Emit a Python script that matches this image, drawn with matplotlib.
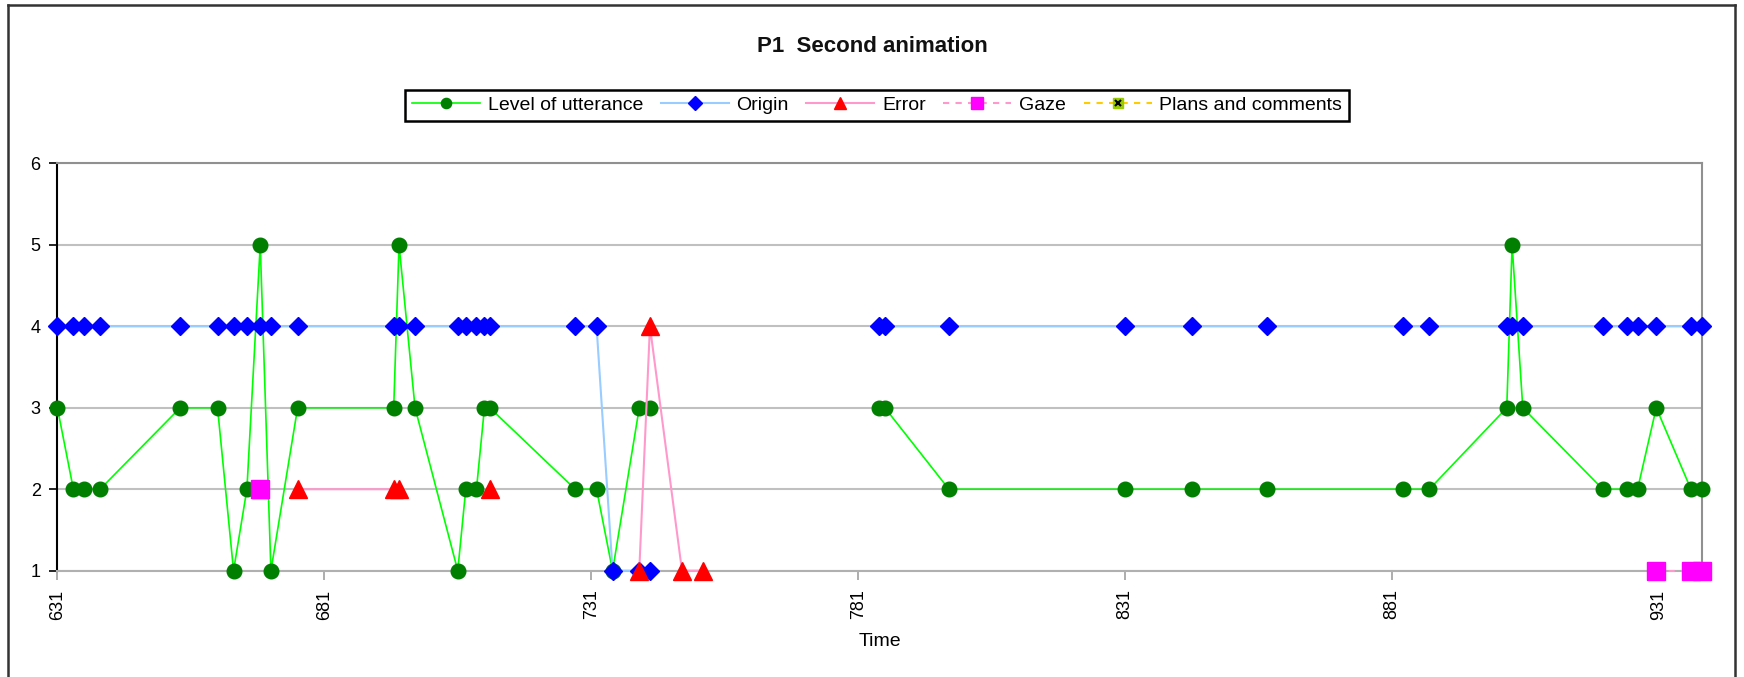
import numpy as np
import matplotlib.pyplot as plt
from matplotlib.lines import Line2D

plt.rcParams['font.family'] = ['Liberation Sans', 'DejaVu Sans']

nan = np.nan

# one row per observed moment, blank cells left as nan (gives the gaps in the lines)
time = [631, 634, 636, 639, 654, 661, 664, 666.5, 669, 671, 676, 694, 695, 698,
        706, 707.5, 709.5, 711, 712, 728, 732, 735, 740, 742, 748, 752, 785, 786,
        798, 831, 843.5, 857.5, 883, 888, 902.5, 903.5, 905.5, 920.5, 925, 927,
        930.5, 937, 939]
level = [3, 2, 2, 2, 3, 3, 1, 2, 5, 1, 3, 3, 5, 3,
         1, 2, 2, 3, 3, 2, 2, 1, 3, 3, nan, nan, 3, 3,
         2, 2, 2, 2, 2, 2, 3, 5, 3, 2, 2, 2,
         3, 2, 2]
origin = [4, 4, 4, 4, 4, 4, 4, 4, 4, 4, 4, 4, 4, 4,
          4, 4, 4, 4, 4, 4, 4, 1, 1, 1, nan, nan, 4, 4,
          4, 4, 4, 4, 4, 4, 4, 4, 4, 4, 4, 4,
          4, 4, 4]
error = [nan, nan, nan, nan, nan, nan, nan, nan, 2, nan, 2, 2, 2, nan,
         nan, nan, nan, nan, 2, nan, nan, nan, 1, 4, 1, 1, nan, nan,
         nan, nan, nan, nan, nan, nan, nan, nan, nan, nan, nan, nan,
         nan, nan, nan]
gaze = [nan, nan, nan, nan, nan, nan, nan, nan, 2, nan, nan, nan, nan, nan,
        nan, nan, nan, nan, nan, nan, nan, nan, nan, nan, nan, nan, nan, nan,
        nan, nan, nan, nan, nan, nan, nan, nan, nan, nan, nan, nan,
        1, 1, 1]
plans = [nan] * len(time)

xticks = [631, 681, 731, 781, 831, 881, 931]
yticks = [1, 2, 3, 4, 5, 6]

fig = plt.figure(figsize=(17.44, 6.77), dpi=100)
ax = fig.add_axes([0.0329, 0.1571, 0.9428, 0.6014])

l1, = ax.plot(time, level, color='#00FF00', lw=1.2, marker='o', ms=10.5,
              mfc='#007F00', mec='#007F00', clip_on=False, zorder=3)
l2, = ax.plot(time, origin, color='#99CCFF', lw=1.5, marker='D', ms=9.5,
              mfc='#0000FF', mec='#0000FF', clip_on=False, zorder=4)
l3, = ax.plot(time, error, color='#FF99CC', lw=1.5, marker='^', ms=13,
              mfc='#FF0000', mec='#FF0000', clip_on=False, zorder=5)
l4, = ax.plot(time, gaze, color='#FF99CC', lw=1.5, ls=(0, (3, 3)), marker='s', ms=12.5,
              mfc='#FF00FF', mec='#FF00FF', clip_on=False, zorder=6)
l5a, = ax.plot(time, plans, color='#FFCC00', lw=1.5, ls=(0, (3, 3)), marker='s', ms=11,
               mfc='#99CC00', mec='#99CC00')
l5b, = ax.plot(time, plans, ls='none', marker='x', ms=6, mec='black', mew=1.5)

ax.set_xlim(time[0], time[-1])
ax.set_ylim(1, 6)
ax.set_xticks(xticks)
ax.set_xticklabels([str(t) for t in xticks], rotation=90, fontsize=13)
ax.set_yticks(yticks)
ax.set_yticklabels([str(t) for t in yticks], fontsize=13)
ax.tick_params(axis='y', direction='out', length=6, width=1.2, color='black', pad=6)
ax.tick_params(axis='x', direction='out', length=6.5, width=1.2, color='#A0A0A0', pad=7)

ax.grid(axis='y', color='#C0C0C0', lw=1.5)
ax.set_axisbelow(True)
ax.spines['left'].set_color('black')
ax.spines['left'].set_linewidth(1.5)
ax.spines['bottom'].set_color('#B0B0B0')
ax.spines['bottom'].set_linewidth(1.5)
ax.spines['top'].set_color('#909090')
ax.spines['top'].set_linewidth(1.5)
ax.spines['right'].set_color('#909090')
ax.spines['right'].set_linewidth(1.5)

fig.text(872 / 1744, 1 - 47 / 677, 'P1  Second animation', ha='center', va='center',
         fontsize=16, fontweight='bold', color='#111111')
fig.text(880 / 1744, 1 - 641 / 677, 'Time', ha='center', va='center', fontsize=14)

leg = fig.legend([l1, l2, l3, l4, (l5a, l5b)],
                 ['Level of utterance', 'Origin', 'Error', 'Gaze', 'Plans and comments'],
                 loc='center', bbox_to_anchor=(877 / 1744, 1 - 105.5 / 677), ncol=5,
                 fontsize=14, handlelength=3.5, handletextpad=0.4, columnspacing=0.9,
                 borderpad=0.35, markerscale=0.7, fancybox=False, framealpha=1,
                 edgecolor='black')
leg.get_frame().set_linewidth(1.8)

# chart area border (open at the bottom)
x0, x1, y1 = 8 / 1744, 1735 / 1744, 1 - 5 / 677
for xs, ys in [([x0, x0], [0, y1]), ([x0, x1], [y1, y1]), ([x1, x1], [y1, 0])]:
    fig.add_artist(Line2D(xs, ys, color='#333333', lw=1.8, transform=fig.transFigure))

fig.savefig('out.png', dpi=100)
